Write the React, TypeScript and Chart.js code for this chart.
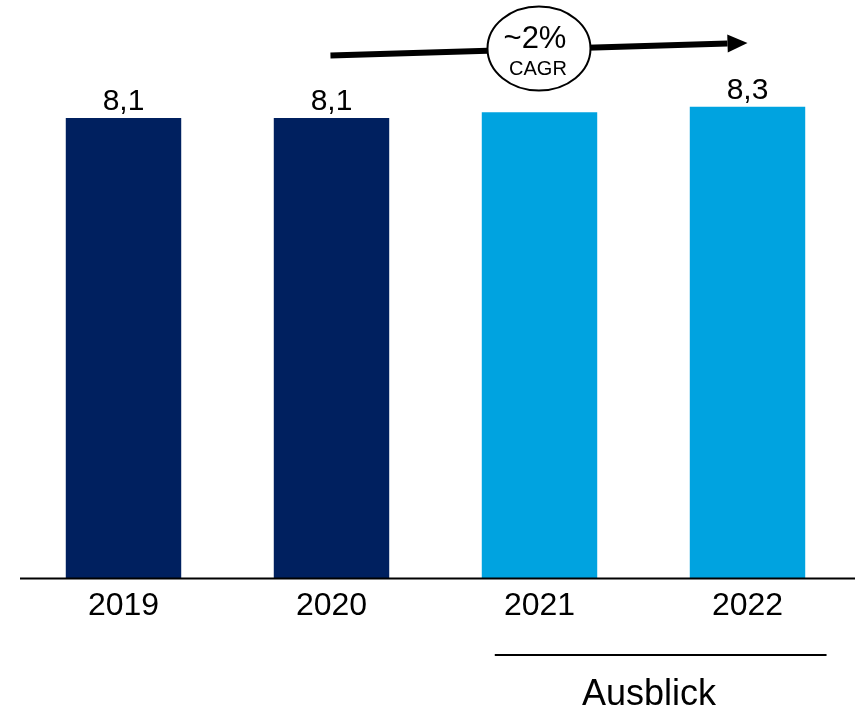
import React, { useEffect, useRef } from "react";
import { Chart, registerables } from "chart.js";

Chart.register(...registerables);

const years = ["2019", "2020", "2021", "2022"];
const values = [8.1, 8.1, 8.2, 8.3];
const valueLabels = ["8,1", "8,1", "", "8,3"];
const barColors = ["#00205F", "#00205F", "#00A3E0", "#00A3E0"];
const cagrText = "~2%";
const cagrSub = "CAGR";
const outlookText = "Ausblick";
// arrow start/end expressed as [category index, value]
const arrowStart = [0.995, 9.2];
const arrowEnd = [3.0, 9.42];
const outlookRange = [1.785, 3.38];

const FONT = "'Liberation Sans', Arial, sans-serif";

const annotations = {
  id: "annotations",
  afterDraw(chart: any) {
    const ctx = chart.ctx;
    const x = chart.scales.x;
    const y = chart.scales.y;
    const base = y.getPixelForValue(0);

    ctx.save();
    // baseline
    ctx.strokeStyle = "#000";
    ctx.lineWidth = 2;
    ctx.beginPath();
    ctx.moveTo(20, base);
    ctx.lineTo(chart.width, base);
    ctx.stroke();

    // value labels
    const meta = chart.getDatasetMeta(0);
    ctx.fillStyle = "#000";
    ctx.font = `30px ${FONT}`;
    ctx.textAlign = "center";
    ctx.textBaseline = "alphabetic";
    meta.data.forEach((bar: any, i: number) => {
      if (!valueLabels[i]) return;
      ctx.fillText(valueLabels[i], bar.x, bar.y - 8);
    });

    // CAGR arrow
    const x1 = x.getPixelForValue(arrowStart[0]);
    const y1 = y.getPixelForValue(arrowStart[1]);
    const x2 = x.getPixelForValue(arrowEnd[0]);
    const y2 = y.getPixelForValue(arrowEnd[1]);
    const ang = Math.atan2(y2 - y1, x2 - x1);
    const headLen = 20;
    const headHalf = 9;
    const bx = x2 - headLen * Math.cos(ang);
    const by = y2 - headLen * Math.sin(ang);
    ctx.strokeStyle = "#000";
    ctx.lineWidth = 6;
    ctx.beginPath();
    ctx.moveTo(x1, y1);
    ctx.lineTo(bx, by);
    ctx.stroke();
    ctx.fillStyle = "#000";
    ctx.beginPath();
    ctx.moveTo(x2, y2);
    ctx.lineTo(bx - headHalf * Math.sin(ang), by + headHalf * Math.cos(ang));
    ctx.lineTo(bx + headHalf * Math.sin(ang), by - headHalf * Math.cos(ang));
    ctx.closePath();
    ctx.fill();

    // ellipse
    const cx = (x1 + x2) / 2 + 0;
    const cy = 48.5;
    ctx.fillStyle = "#fff";
    ctx.strokeStyle = "#000";
    ctx.lineWidth = 2;
    ctx.beginPath();
    ctx.ellipse(cx, cy, 51.5, 42, 0, 0, Math.PI * 2);
    ctx.fill();
    ctx.stroke();
    ctx.fillStyle = "#000";
    ctx.textAlign = "center";
    ctx.font = `31px ${FONT}`;
    ctx.fillText(cagrText, cx - 4, 48);
    ctx.font = `20px ${FONT}`;
    ctx.fillText(cagrSub, cx - 1, 75);

    // outlook bracket
    const ox1 = x.getPixelForValue(outlookRange[0]);
    const ox2 = x.getPixelForValue(outlookRange[1]);
    ctx.strokeStyle = "#000";
    ctx.lineWidth = 2;
    ctx.beginPath();
    ctx.moveTo(ox1, 655);
    ctx.lineTo(ox2, 655);
    ctx.stroke();
    ctx.font = `36px ${FONT}`;
    ctx.fillText(outlookText, 649, 705);
    ctx.restore();
  },
};

export default function App() {
  const ref = useRef<HTMLCanvasElement | null>(null);
  useEffect(() => {
    if (!ref.current) return;
    const chart = new Chart(ref.current, {
      type: "bar",
      data: {
        labels: years,
        datasets: [
          {
            data: values,
            backgroundColor: barColors,
            categoryPercentage: 1,
            barPercentage: 0.555,
          },
        ],
      },
      options: {
        animation: false,
        responsive: false,
        maintainAspectRatio: false,
        layout: { padding: { left: 19.5, right: 3.5, top: 10, bottom: 77 } },
        plugins: { legend: { display: false }, tooltip: { enabled: false } },
        scales: {
          y: { display: false, min: 0, max: 10 },
          x: {
            grid: { display: false, drawTicks: false },
            border: { display: false },
            ticks: {
              color: "#000",
              padding: 8,
              font: { size: 32, family: FONT },
            },
          },
        },
      },
      plugins: [annotations],
    });
    return () => chart.destroy();
  }, []);
  return (
    <div style={{ position: "fixed", left: 0, top: 0, width: 855, height: 710, background: "#fff" }}>
      <canvas ref={ref} width={855} height={710} style={{ width: 855, height: 710 }} />
    </div>
  );
}
